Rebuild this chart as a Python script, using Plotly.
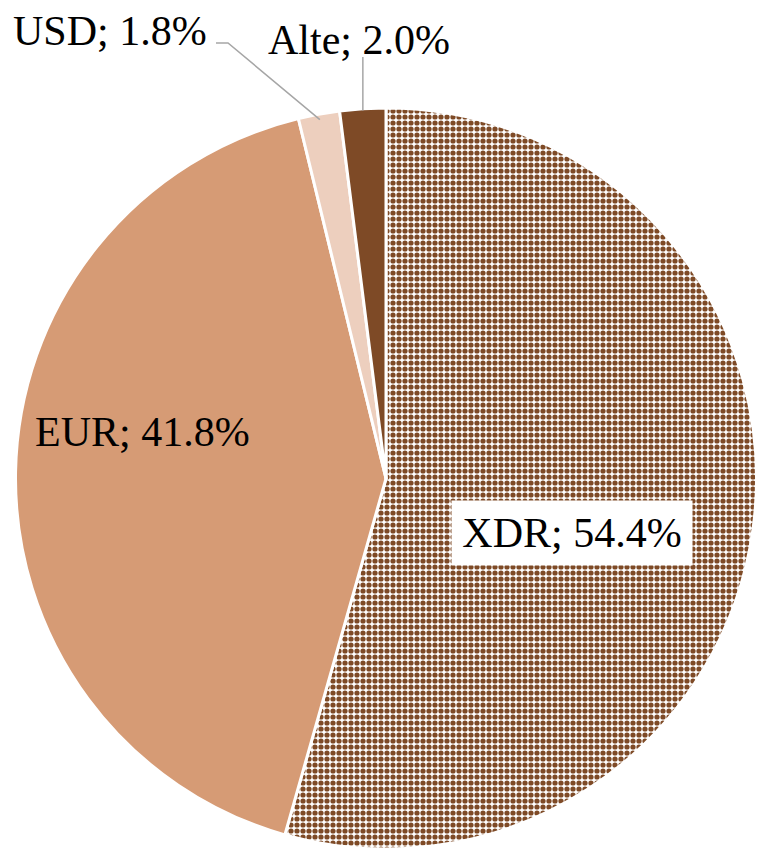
import math
import plotly.graph_objects as go

labels = ["XDR", "EUR", "USD", "Alte"]
values = [54.4, 41.8, 1.8, 2.0]
text_labels = ["XDR; 54.4%", "EUR; 41.8%", "USD; 1.8%", "Alte; 2.0%"]
colors = ["#7E4A26", "#D69B75", "#EDCFBE", "#7E4A26"]

W, H = 757, 851
CX, CY, R = 386, 478.5, 370.5
FONT = dict(family="Liberation Serif, Times New Roman, serif", size=42, color="black")


def px(x, y):
    return x / W, 1 - y / H


def edge_point(idx, rfac=1.0):
    total = sum(values)
    start = sum(values[:idx]) / total * 360
    mid = start + values[idx] / total * 360 / 2
    a = math.radians(mid)
    return CX + R * rfac * math.sin(a), CY - R * rfac * math.cos(a)


fig = go.Figure(
    go.Pie(
        labels=labels,
        values=values,
        sort=False,
        direction="clockwise",
        rotation=0,
        textinfo="none",
        hoverinfo="label+percent",
        showlegend=False,
        domain=dict(x=[15 / W, 1], y=[2 / H, 1 - 108 / H]),
        marker=dict(
            colors=colors,
            line=dict(color="white", width=3),
            pattern=dict(
                shape=[".", "", "", ""],
                fillmode="replace",
                bgcolor=["white", colors[1], colors[2], colors[3]],
                size=6,
                solidity=0.6,
            ),
        ),
    )
)

annotations = []
# XDR inside with white box
x, y = px(572, 533)
annotations.append(dict(x=x, y=y, xref="paper", yref="paper", text=text_labels[0],
                        showarrow=False, font=FONT, bgcolor="white", borderpad=9,
                        width=222, xanchor="center", yanchor="middle"))
# EUR inside
x, y = px(142, 432)
annotations.append(dict(x=x, y=y, xref="paper", yref="paper", text=text_labels[1],
                        showarrow=False, font=FONT, xanchor="center", yanchor="middle"))
# USD outside
x, y = px(110, 31)
annotations.append(dict(x=x, y=y, xref="paper", yref="paper", text=text_labels[2],
                        showarrow=False, font=FONT, xanchor="center", yanchor="middle"))
# Alte outside
x, y = px(359, 40)
annotations.append(dict(x=x, y=y, xref="paper", yref="paper", text=text_labels[3],
                        showarrow=False, font=FONT, xanchor="center", yanchor="middle"))

shapes = []
lc = dict(color="#A6A6A6", width=1.5)
ux, uy = edge_point(2, 0.985)
pts = [px(216, 43), px(228, 43), px(ux, uy)]
path = "M {} {} L {} {} L {} {}".format(pts[0][0], pts[0][1], pts[1][0], pts[1][1], pts[2][0], pts[2][1])
shapes.append(dict(type="path", xref="paper", yref="paper", path=path, line=lc))
ax, ay = edge_point(3, 0.995)
p0 = px(ax, 57)
p1 = px(ax, ay)
shapes.append(dict(type="line", xref="paper", yref="paper", x0=p0[0], y0=p0[1], x1=p1[0], y1=p1[1], line=lc))

fig.update_layout(
    width=W, height=H,
    margin=dict(l=0, r=0, t=0, b=0),
    paper_bgcolor="white",
    plot_bgcolor="white",
    annotations=annotations,
    shapes=shapes,
)

fig.write_html(
    "out.html",
    config={"displayModeBar": False},
    post_script="document.body.style.margin='0';document.body.style.padding='0';",
)
